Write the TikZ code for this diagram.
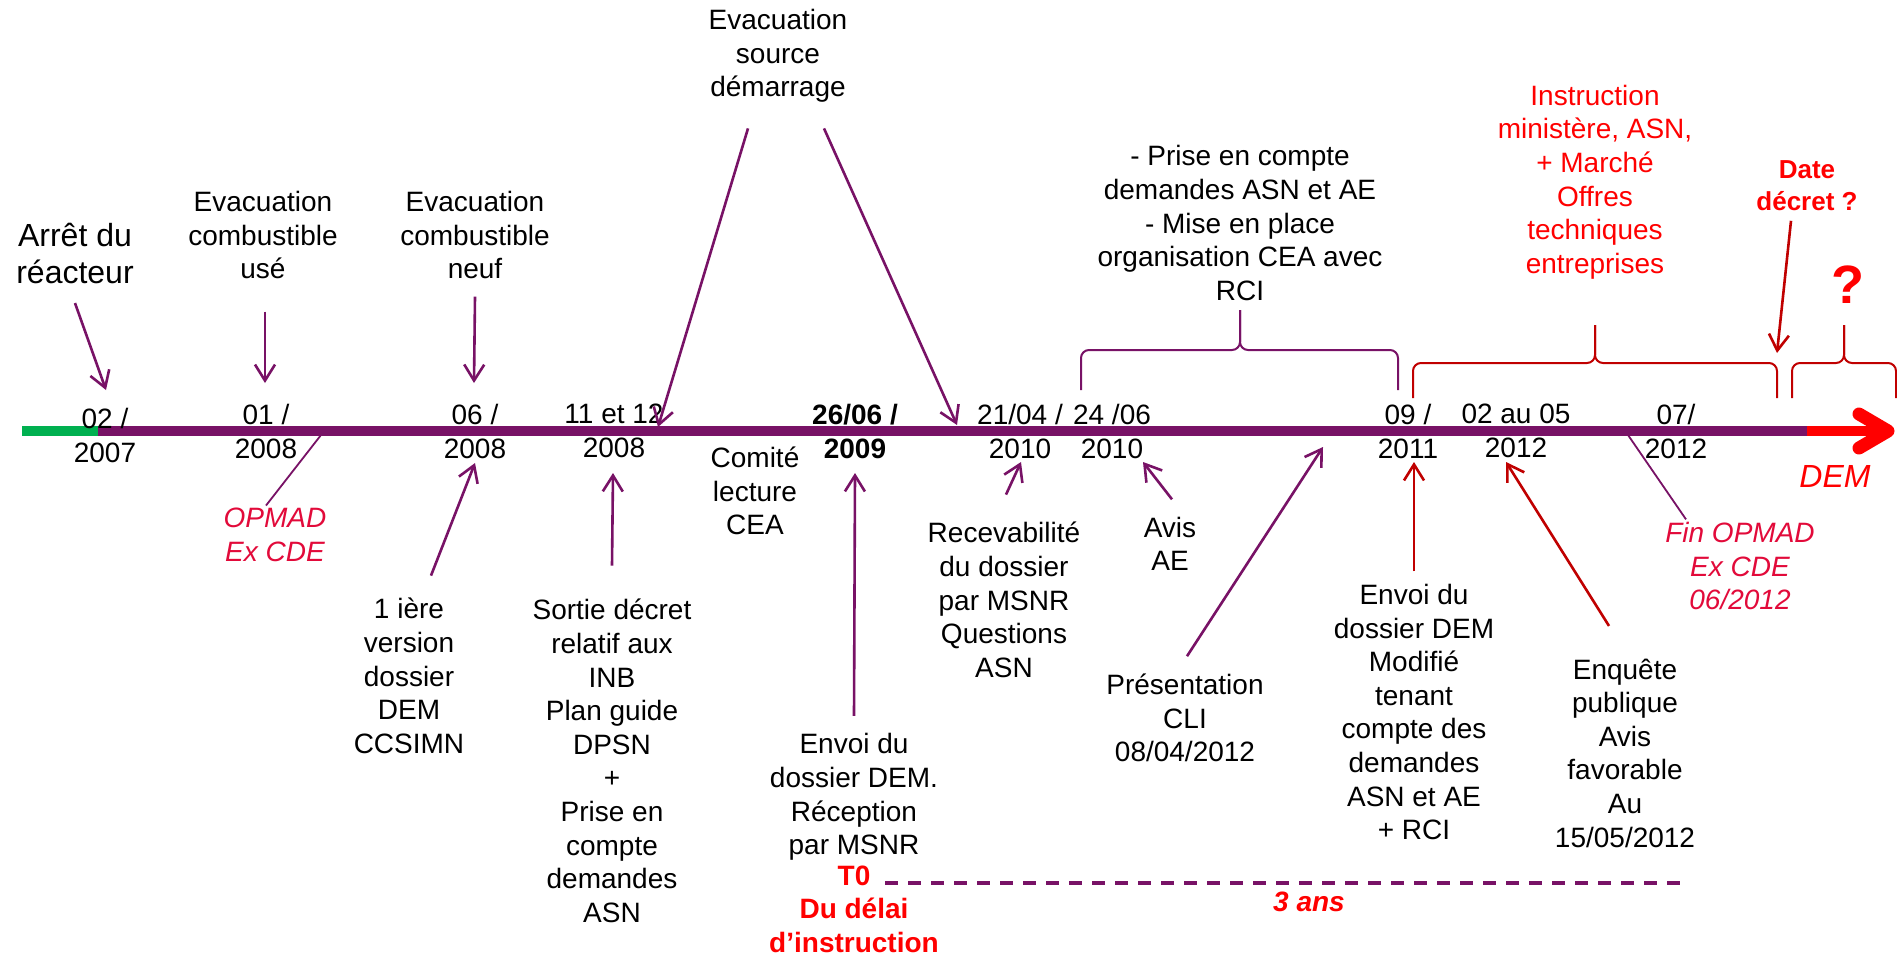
\documentclass[tikz,border=0pt]{standalone}
\usepackage{fontspec}
\setmainfont{Liberation Sans}
\usetikzlibrary{arrows.meta}

\definecolor{prune}{RGB}{120,18,102}
\definecolor{vertarret}{RGB}{0,176,80}
\definecolor{rougefonce}{RGB}{192,0,0}
\definecolor{cramoisi}{RGB}{226,10,58}

\tikzset{every picture/.style={line width=0.75pt}}
\tikzset{
  txt/.style={font=\fontsize{14}{16.8}\selectfont, align=center, inner sep=0pt},
  txtrouge/.style={txt, text=red},
  txtgras/.style={txt, text=red, font=\fontsize{14}{16.8}\selectfont\bfseries},
  txtital/.style={txt, text=cramoisi, font=\fontsize{14}{16.8}\selectfont\itshape},
  datelbl/.style={font=\fontsize{14}{17}\selectfont, align=center, inner sep=0pt},
  fleche/.style={draw=prune, line width=1.3pt, -{Straight Barb[length=8pt,width=10pt]}},
  flecherouge/.style={fleche, draw=rougefonce},
  trait/.style={draw=prune, line width=0.9pt},
  accolade/.style={draw=prune, line width=1pt, rounded corners=4pt},
  tirets/.style={draw=prune, line width=2pt, dash pattern=on 6.5pt off 5pt},
}

\begin{document}
\begin{tikzpicture}[x=0.5pt,y=0.5pt,yscale=-1,xscale=1]
	\path [use as bounding box, fill=white] (0,0) rectangle (1897,960);

	%Straight Lines [axe]
	\draw [vertarret, line width=5pt] (22,431) -- (98,431);
	\draw [prune, line width=5pt] (98,431) -- (1807,431);
	\draw [red, line width=5pt] (1807,431) -- (1884,431);
	\draw [red, line width=6.5pt, line cap=round, line join=round] (1859,414) -- (1888,431) -- (1859,448);

	% Text Node
	\draw (105,435) node[datelbl] (d0207) {02 /\\2007};
	% Text Node
	\draw (266,431) node[datelbl] (d0108) {01 /\\2008};
	% Text Node
	\draw (475,431) node[datelbl] (d0608) {06 /\\2008};
	% Text Node
	\draw (614,431) node[datelbl] (d1208) {11 et 12\\2008};
	% Text Node
	\draw (855,431) node[datelbl, font=\fontsize{14}{17}\selectfont\bfseries] (d0609) {26/06 /\\2009};
	% Text Node
	\draw (1020,431) node[datelbl] (d0410) {21/04 /\\2010};
	% Text Node
	\draw (1112,431) node[datelbl] (d0610) {24 /06\\2010};
	% Text Node
	\draw (1408,431) node[datelbl] (d0911) {09 /\\2011};
	% Text Node
	\draw (1516,431) node[datelbl] (d0512) {02 au 05\\2012};
	% Text Node
	\draw (1676,431) node[datelbl] (d0712) {07/\\2012};

	% Text Node
	\draw (75,253) node[txt, font=\fontsize{16}{18.5}\selectfont] (reac) {Arrêt du\\réacteur};
	% Text Node
	\draw (263,235) node[txt] (use) {Evacuation\\combustible\\usé};
	% Text Node
	\draw (475,235) node[txt] (neuf) {Evacuation\\combustible\\neuf};
	% Text Node
	\draw (778,56) node[txt] (src) {Evacuation\\source\\démarrage};
	% Text Node
	\draw (1240,223) node[txt] (orga) {- Prise en compte\\demandes ASN et AE\\- Mise en place\\organisation CEA avec\\RCI};
	% Text Node
	\draw (1595,182) node[txtrouge] (instr) {Instruction\\ministère, ASN,\\+ Marché\\Offres\\techniques\\entreprises};
	% Text Node
	\draw (1807,186) node[txtgras, font=\fontsize{13}{16}\selectfont\bfseries] (decret) {Date\\décret ?};
	% Text Node
	\draw (1848,285) node[txtgras, font=\fontsize{27}{30}\selectfont\bfseries] (qmark) {?};
	% Text Node
	\draw (1835,476) node[txtrouge, font=\fontsize{16}{19}\selectfont\itshape] (dem) {DEM};

	% Text Node
	\draw (275,535) node[txtital] (opmad) {OPMAD\\Ex CDE};
	% Text Node
	\draw (409,676) node[txt] (version) {1 ière\\version\\dossier\\DEM\\CCSIMN};
	% Text Node
	\draw (612,761) node[txt] (sortie) {Sortie décret\\relatif aux\\INB\\Plan guide\\DPSN\\+\\Prise en\\compte\\demandes\\ASN};
	% Text Node
	\draw (755,491) node[txt] (comite) {Comité\\lecture\\CEA};
	% Text Node
	\draw (854,797) node[txt] (envoi) {Envoi du\\dossier DEM.\\Réception\\par MSNR};
	% Text Node
	\draw (854,909) node[txtgras] (delai) {T0\\Du délai\\d’instruction};
	% Text Node
	\draw (1004,600) node[txt] (recev) {Recevabilité\\du dossier\\par MSNR\\Questions\\ASN};
	% Text Node
	\draw (1170,544) node[txt] (avis) {Avis\\AE};
	% Text Node
	\draw (1185,718) node[txt] (cli) {Présentation\\CLI\\08/04/2012};
	% Text Node
	\draw (1414,712) node[txt] (envmod) {Envoi du\\dossier DEM\\Modifié\\tenant\\compte des\\demandes\\ASN et AE\\+ RCI};
	% Text Node
	\draw (1625,753) node[txt] (enquete) {Enquête\\publique\\Avis\\favorable\\Au\\15/05/2012};
	% Text Node
	\draw (1740,566) node[txtital] (finop) {Fin OPMAD\\Ex CDE\\06/2012};
	% Text Node
	\draw (1309,902) node[txtgras, font=\fontsize{14}{16.8}\selectfont\bfseries\itshape] (troisans) {3 ans};

	% tips on the axis
	\coordinate (tk0207) at (106,390);
	\coordinate (tk0108) at (265,383);
	\coordinate (tk0608) at (474,383);
	\coordinate (tk1208) at (658,427);
	\coordinate (tk0410) at (957,425);
	\coordinate (tkdecret) at (1777,353);
	\coordinate (bt0608) at (475,463);
	\coordinate (bt1208) at (613,473);
	\coordinate (bt0609) at (855,473);
	\coordinate (bt0410) at (1021,462);
	\coordinate (bt0610) at (1143,462);
	\coordinate (btcli) at (1323,447);
	\coordinate (bt0911) at (1414,462);
	\coordinate (bt0512) at (1506,462);
	\coordinate (op0108) at (321,435);
	\coordinate (op0712) at (1628,435);

	%Straight Lines
	\draw [fleche] ([shift={(0,19)}]reac.south) -- (tk0207);
	\draw [fleche] ([shift={(2,32)}]use.south) -- (tk0108);
	\draw [fleche] ([shift={(0,17)}]neuf.south) -- (tk0608);
	\draw [fleche] ([shift={(-30,25)}]src.south) -- (tk1208);
	\draw [fleche] ([shift={(46,25)}]src.south) -- (tk0410);
	\draw [flecherouge] ([shift={(-16,9)}]decret.south) -- (tkdecret);
	%Straight Lines
	\draw [fleche] ([shift={(22,-22)}]version.north) -- (bt0608);
	\draw [fleche] ([shift={(0,-33)}]sortie.north) -- (bt1208);
	\draw [fleche] ([shift={(0,-17)}]envoi.north) -- (bt0609);
	\draw [fleche] ([shift={(2,-27)}]recev.north) -- (bt0410);
	\draw [fleche] ([shift={(2,-17)}]avis.north) -- (bt0610);
	\draw [fleche] ([shift={(2,-17)}]cli.north) -- (btcli);
	\draw [flecherouge] ([shift={(0,-12)}]envmod.north) -- (bt0911);
	\draw [flecherouge] ([shift={(-16,-32)}]enquete.north) -- (bt0512);
	%Straight Lines
	\draw [trait] ([shift={(-9,-2)}]opmad.north) -- (op0108);
	\draw [trait] ([shift={(-54,-2)}]finop.north) -- (op0712);

	%Shape: Brace
	\draw [accolade] (1081,390) |- (1240,350) -- (1240,310);
	\draw [accolade] (1240,310) -- (1240,350) -| (1398,390);
	%Shape: Brace
	\draw [accolade, draw=rougefonce] (1413,398) |- (1595,363) -- (1595,325);
	\draw [accolade, draw=rougefonce] (1595,325) -- (1595,363) -| (1777,398);
	%Shape: Brace
	\draw [accolade, draw=rougefonce] (1792,398) |- (1844,363) -- (1844,325);
	\draw [accolade, draw=rougefonce] (1844,325) -- (1844,363) -| (1896,398);

	%Straight Lines [delai]
	\coordinate (t0a) at (885,883);
	\coordinate (t0b) at (1685,883);
	\draw [tirets] (t0a) -- (t0b);

\end{tikzpicture}
\end{document}
